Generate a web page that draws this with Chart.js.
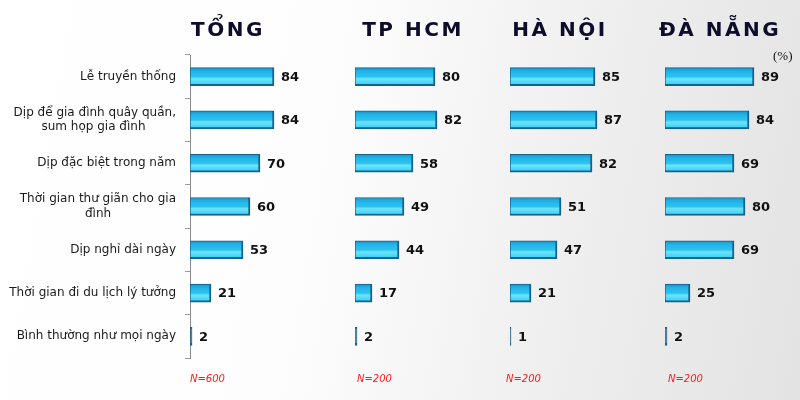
<!DOCTYPE html>
<html>
<head>
<meta charset="utf-8">
<script src="https://cdn.jsdelivr.net/npm/chart.js@4.4.1/dist/chart.umd.min.js"></script>
<style>
  html, body { margin:0; padding:0; }
  #wrap { position:relative; width:800px; height:400px; overflow:hidden;
    background: linear-gradient(100deg, #ffffff 0%, #fdfdfd 40%, #eeeeee 72%, #e3e3e3 100%); }
  canvas { position:absolute; top:0; }
  .ttl { position:absolute; top:17px; font-family:"DejaVu Sans", Verdana, sans-serif; font-weight:bold;
    font-size:20px; letter-spacing:2.5px; color:#0d0d2b; text-align:center; white-space:nowrap; }
  .n { position:absolute; top:373px; font-family:"DejaVu Sans", Verdana, sans-serif; font-style:italic;
    font-size:10px; color:#ff1a1a; }
  .pct { position:absolute; left:773px; top:48px; font-family:"Liberation Serif", serif; font-size:13px; color:#111; }
</style>
</head>
<body>
<div id="wrap">
  <canvas id="c0" width="300" height="400" style="left:0;width:300px;height:400px"></canvas>
  <canvas id="c1" width="130" height="400" style="left:355px;width:130px;height:400px"></canvas>
  <canvas id="c2" width="130" height="400" style="left:510px;width:130px;height:400px"></canvas>
  <canvas id="c3" width="135" height="400" style="left:665px;width:135px;height:400px"></canvas>
  <div class="ttl" style="left:178px;width:100px">TỔNG</div>
  <div class="ttl" style="left:353px;width:120px">TP HCM</div>
  <div class="ttl" style="left:505px;width:110px">HÀ NỘI</div>
  <div class="ttl" style="left:659px;width:120px">ĐÀ NẴNG</div>
  <div class="pct">(%)</div>
  <div class="n" style="left:190px">N=600</div>
  <div class="n" style="left:357px">N=200</div>
  <div class="n" style="left:506px">N=200</div>
  <div class="n" style="left:668px">N=200</div>
</div>
<script>
const categories = [
  "Lễ truyền thống",
  ["Dịp để gia đình quây quần,", "sum họp gia đình"],
  "Dịp đặc biệt trong năm",
  ["Thời gian thư giãn cho gia", "đình"],
  "Dịp nghỉ dài ngày",
  "Thời gian đi du lịch lý tưởng",
  "Bình thường như mọi ngày"
];
const tongValues   = [84, 84, 70, 60, 53, 21, 2];
const hcmValues    = [80, 82, 58, 49, 44, 17, 2];
const hanoiValues  = [85, 87, 82, 51, 47, 21, 1];
const danangValues = [89, 84, 69, 80, 69, 25, 2];

const LABEL_FONT = '12px "DejaVu Sans", Verdana, sans-serif';
const measureCtx = document.createElement('canvas').getContext('2d');
measureCtx.font = LABEL_FONT;
// center multi-line labels by padding shorter lines with trailing spaces
function centerLines(label) {
  if (!Array.isArray(label)) return label;
  const widths = label.map(l => measureCtx.measureText(l).width);
  const maxW = Math.max(...widths);
  const sp = measureCtx.measureText('\u00a0').width;
  return label.map((l, i) => l + '\u00a0'.repeat(Math.round((maxW - widths[i]) / 2 / sp)));
}

const valueLabels = {
  id: 'valueLabels',
  afterDatasetsDraw(chart) {
    const ctx = chart.ctx;
    const meta = chart.getDatasetMeta(0);
    const data = chart.data.datasets[0].data;
    ctx.save();
    ctx.font = 'bold 13px "DejaVu Sans", Verdana, sans-serif';
    ctx.fillStyle = '#111';
    ctx.textBaseline = 'middle';
    ctx.textAlign = 'left';
    meta.data.forEach((bar, i) => {
      ctx.fillText(String(data[i]), bar.x + 7, bar.y + 1);
    });
    ctx.restore();
  }
};

function barFill(context) {
  const chart = context.chart;
  const ys = chart.scales.y;
  if (context.raw !== undefined && context.raw < 3) return '#1d5c85';
  if (!ys || context.dataIndex === undefined) return '#2bc0ee';
  const c = ys.getPixelForValue(context.dataIndex);
  if (!isFinite(c)) return '#2bc0ee';
  const g = chart.ctx.createLinearGradient(0, c - 9, 0, c + 9);
  g.addColorStop(0, '#1592c8');
  g.addColorStop(0.2, '#22b3e6');
  g.addColorStop(0.5, '#2cc2ef');
  g.addColorStop(0.62, '#6fe3fa');
  g.addColorStop(1, '#2ccdf4');
  return g;
}

function makeChart(id, values, showY, maxX) {
  return new Chart(document.getElementById(id), {
    type: 'bar',
    data: {
      labels: categories,
      datasets: [{
        data: values,
        backgroundColor: barFill,
        borderColor: '#17618e',
        borderWidth: {top: 1, left: 1, right: 2, bottom: 2},
        borderSkipped: false,
        barThickness: 18
      }]
    },
    plugins: [valueLabels],
    options: {
      indexAxis: 'y',
      responsive: false,
      animation: false,
      devicePixelRatio: 1,
      layout: { padding: { top: 55, bottom: 42, left: 0, right: 0 } },
      plugins: { legend: { display: false }, tooltip: { enabled: false } },
      scales: {
        x: { display: false, min: 0, max: maxX },
        y: {
          display: showY,
          afterFit: showY ? (s) => { s.width = 190; } : undefined,
          grid: { drawOnChartArea: false, offset: true, tickLength: 5, color: '#9a9a9a' },
          border: { display: true, color: '#8a8a8a', width: 1 },
          ticks: {
            color: '#1a1a1a',
            padding: 9,
            font: { family: '"DejaVu Sans", Verdana, sans-serif', size: 12 },
            callback: function(value, index) { return centerLines(categories[index]); }
          }
        }
      }
    }
  });
}

makeChart('c0', tongValues, true, 110);
makeChart('c1', hcmValues, false, 130);
makeChart('c2', hanoiValues, false, 130);
makeChart('c3', danangValues, false, 135);
</script>
</body>
</html>
